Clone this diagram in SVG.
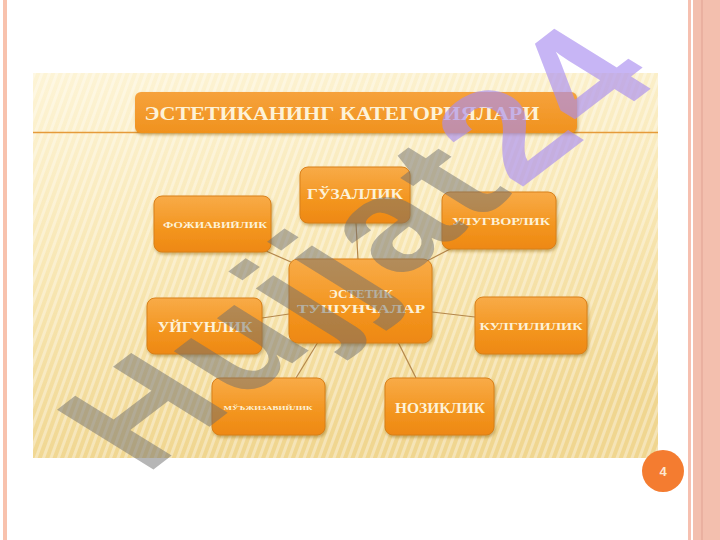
<svg xmlns="http://www.w3.org/2000/svg" width="720" height="540" viewBox="0 0 720 540">
<defs>
<linearGradient id="bg" x1="0" y1="0" x2="0.2" y2="1">
<stop offset="0" stop-color="#fdf4d6"/>
<stop offset="0.5" stop-color="#f8e7b4"/>
<stop offset="1" stop-color="#f0d690"/>
</linearGradient>
<pattern id="stripes" width="7" height="7" patternUnits="userSpaceOnUse" patternTransform="rotate(20)">
<rect width="3" height="7" fill="#ffffff" opacity="0.35"/>
</pattern>
<linearGradient id="node" x1="0" y1="0" x2="0" y2="1">
<stop offset="0" stop-color="#f8ab48"/>
<stop offset="0.6" stop-color="#f3951f"/>
<stop offset="1" stop-color="#ee8812"/>
</linearGradient>
<linearGradient id="title" x1="0" y1="0" x2="0" y2="1">
<stop offset="0" stop-color="#f6a23c"/>
<stop offset="1" stop-color="#f0921e"/>
</linearGradient>
<filter id="sh" x="-10%" y="-10%" width="130%" height="140%">
<feDropShadow dx="1" dy="2" stdDeviation="1.5" flood-color="#8a5a10" flood-opacity="0.45"/>
</filter>
</defs>
<style>
.node rect { fill: url(#node); stroke: #d9801a; stroke-width: 1; filter: url(#sh); }
.lbl { font-family: "Liberation Serif", "DejaVu Serif", serif; font-weight: bold; fill: #fdf2d8; text-anchor: middle; }
.conn line { stroke: #b4874c; stroke-width: 1.2; }
</style>
<rect width="720" height="540" fill="#ffffff"/>
<rect x="3" y="0" width="4" height="540" fill="#f8c2ad"/>
<rect x="688" y="0" width="3" height="540" fill="#f6c0b0"/>
<rect x="693" y="0" width="27" height="540" fill="#f3bfae"/>
<rect x="701" y="0" width="2" height="540" fill="#eab0a0"/>
<g id="picture">
<rect x="33" y="73" width="625" height="385" fill="url(#bg)"/>
<rect x="33" y="73" width="625" height="385" fill="url(#stripes)"/>
<line x1="33" y1="132.5" x2="658" y2="132.5" stroke="#e59a3a" stroke-width="1.5"/>
</g>
<g id="title-bar">
<rect x="135" y="92" width="442" height="41" rx="6" fill="url(#title)" filter="url(#sh)"/>
<text class="lbl" x="342" y="120" font-size="18" textLength="395" lengthAdjust="spacingAndGlyphs">ЭСТЕТИКАНИНГ  КАТЕГОРИЯЛАРИ</text>
</g>
<g class="conn" id="connectors">
<line x1="358" y1="260" x2="356" y2="223"/>
<line x1="300" y1="266" x2="266" y2="251"/>
<line x1="425" y1="262" x2="452" y2="248"/>
<line x1="289" y1="314" x2="262" y2="318"/>
<line x1="432" y1="312" x2="475" y2="317"/>
<line x1="318" y1="342" x2="296" y2="378"/>
<line x1="398" y1="342" x2="416" y2="378"/>
</g>
<g class="node" id="n-center">
<rect x="289" y="259" width="143" height="84" rx="9"/>
<text class="lbl" x="361" y="298" font-size="13">ЭСТЕТИК</text>
<text class="lbl" x="361" y="313" font-size="13" textLength="128" lengthAdjust="spacingAndGlyphs">ТУШУНЧАЛАР</text>
</g>
<g class="node" id="n-gozallik">
<rect x="300" y="167" width="110" height="56" rx="8"/>
<text class="lbl" x="355" y="199" font-size="14" textLength="96" lengthAdjust="spacingAndGlyphs">ГЎЗАЛЛИК</text>
</g>
<g class="node" id="n-fojiaviylik">
<rect x="154" y="196" width="117" height="56" rx="8"/>
<text class="lbl" x="215" y="228" font-size="8" textLength="104" lengthAdjust="spacingAndGlyphs">ФОЖИАВИЙЛИК</text>
</g>
<g class="node" id="n-ulugvorlik">
<rect x="442" y="192" width="114" height="57" rx="8"/>
<text class="lbl" x="501" y="225" font-size="11" textLength="98" lengthAdjust="spacingAndGlyphs">УЛУГВОРЛИК</text>
</g>
<g class="node" id="n-uygunlik">
<rect x="147" y="298" width="115" height="56" rx="8"/>
<text class="lbl" x="205" y="332" font-size="15" textLength="95" lengthAdjust="spacingAndGlyphs">УЙГУНЛИК</text>
</g>
<g class="node" id="n-kulgililik">
<rect x="475" y="297" width="112" height="57" rx="8"/>
<text class="lbl" x="531" y="330" font-size="11" textLength="103" lengthAdjust="spacingAndGlyphs">КУЛГИЛИЛИК</text>
</g>
<g class="node" id="n-mujizaviylik">
<rect x="212" y="378" width="113" height="57" rx="8"/>
<text class="lbl" x="268" y="410" font-size="7" textLength="89" lengthAdjust="spacingAndGlyphs">МЎЪЖИЗАВИЙЛИК</text>
</g>
<g class="node" id="n-noziklik">
<rect x="385" y="378" width="109" height="57" rx="8"/>
<text class="lbl" x="440" y="413" font-size="14" textLength="90" lengthAdjust="spacingAndGlyphs">НОЗИКЛИК</text>
</g>
<g id="slide-number">
<circle cx="663" cy="471" r="21" fill="#f47c30"/>
<text x="663" y="476" font-family="Liberation Sans, Arial, sans-serif" font-size="13" font-weight="bold" fill="#fde8d0" text-anchor="middle">4</text>
</g>
<g id="watermark" font-family="Liberation Sans, Arial, sans-serif" font-weight="bold" font-size="130">
<text transform="translate(145,476) scale(1.45,1) rotate(-48)" letter-spacing="4"><tspan fill="#6e6e6e" fill-opacity="0.5">Hujjat</tspan><tspan fill="#a98ef0" fill-opacity="0.65">24</tspan></text>
</g>
</svg>
